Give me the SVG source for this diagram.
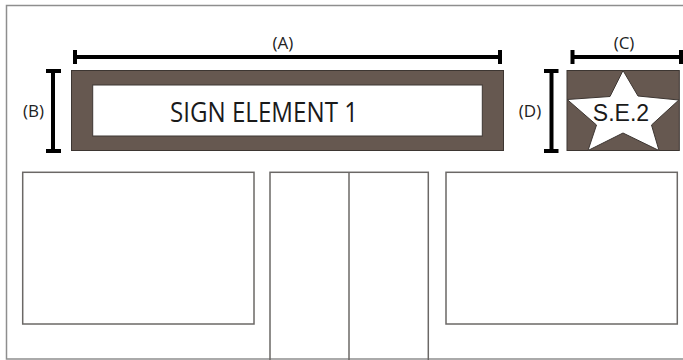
<svg xmlns="http://www.w3.org/2000/svg" width="683" height="360" viewBox="0 0 683 360">
<style>
.frame{fill:none;stroke:#8e8e8e;stroke-width:1.5}
.win{fill:none;stroke:#6b6866;stroke-width:1.5}
.sign{fill:#665850;stroke:#3d3632;stroke-width:1}
.panel{fill:#fff;stroke:#3d3632;stroke-width:1}
.dim{stroke:#000;stroke-width:4;fill:none}
.lbl{font-family:"Open Sans",sans-serif;font-size:17px;fill:#222;text-anchor:middle}
</style>
<rect width="683" height="360" fill="#fff"/>
<g id="facade">
<rect class="frame" x="6.5" y="5.5" width="700" height="353.5"/>
</g>
<g id="window-left"><rect class="win" x="22.7" y="172.3" width="231.3" height="151.7"/></g>
<g id="door">
<rect class="win" x="270" y="172.3" width="158.3" height="200"/>
<line x1="349" y1="172.3" x2="349" y2="360" stroke="#6b6866" stroke-width="1.5"/>
</g>
<g id="window-right"><rect class="win" x="446" y="172.3" width="231.3" height="151.7"/></g>
<g id="sign-element-1">
<rect class="sign" x="71.5" y="70.5" width="432" height="80"/>
<rect class="panel" x="92.7" y="85" width="389.6" height="51"/>
<text x="170" y="121.7" font-family="'Open Sans',sans-serif" font-size="27" fill="#1a1a1a" textLength="188" lengthAdjust="spacingAndGlyphs">SIGN ELEMENT 1</text>
</g>
<g id="sign-element-2">
<rect class="sign" x="567" y="70.5" width="112.3" height="80"/>
<polygon class="panel" points="623,70.5 638,96 678.8,100 651.5,125 659,150.5 623,133 588,150.5 596.5,125 567.2,99.5 610,96.5"/>
<text x="621" y="121" font-family="'Liberation Sans',Arial,sans-serif" font-size="23" fill="#1a1a1a" text-anchor="middle">S.E.2</text>
</g>
<g id="connectors">
<g id="dim-A">
<line class="dim" x1="75" y1="57" x2="500" y2="57"/>
<line class="dim" x1="75" y1="50" x2="75" y2="64"/>
<line class="dim" x1="500" y1="50" x2="500" y2="64"/>
</g>
<g id="dim-B">
<line class="dim" x1="53" y1="71" x2="53" y2="151"/>
<line class="dim" x1="46" y1="71" x2="61" y2="71"/>
<line class="dim" x1="46" y1="151" x2="61" y2="151"/>
</g>
<g id="dim-C">
<line class="dim" x1="572.5" y1="57" x2="681" y2="57"/>
<line class="dim" x1="572.5" y1="50" x2="572.5" y2="64"/>
<line class="dim" x1="681" y1="50" x2="681" y2="64"/>
</g>
<g id="dim-D">
<line class="dim" x1="551.5" y1="71" x2="551.5" y2="151"/>
<line class="dim" x1="544" y1="71" x2="558.5" y2="71"/>
<line class="dim" x1="544" y1="151" x2="558.5" y2="151"/>
</g>
</g>
<g id="labels">
<text class="lbl" x="283" y="49">(A)</text>
<text class="lbl" x="33.5" y="117">(B)</text>
<text class="lbl" x="624" y="49">(C)</text>
<text class="lbl" x="530" y="117">(D)</text>
</g>
</svg>
